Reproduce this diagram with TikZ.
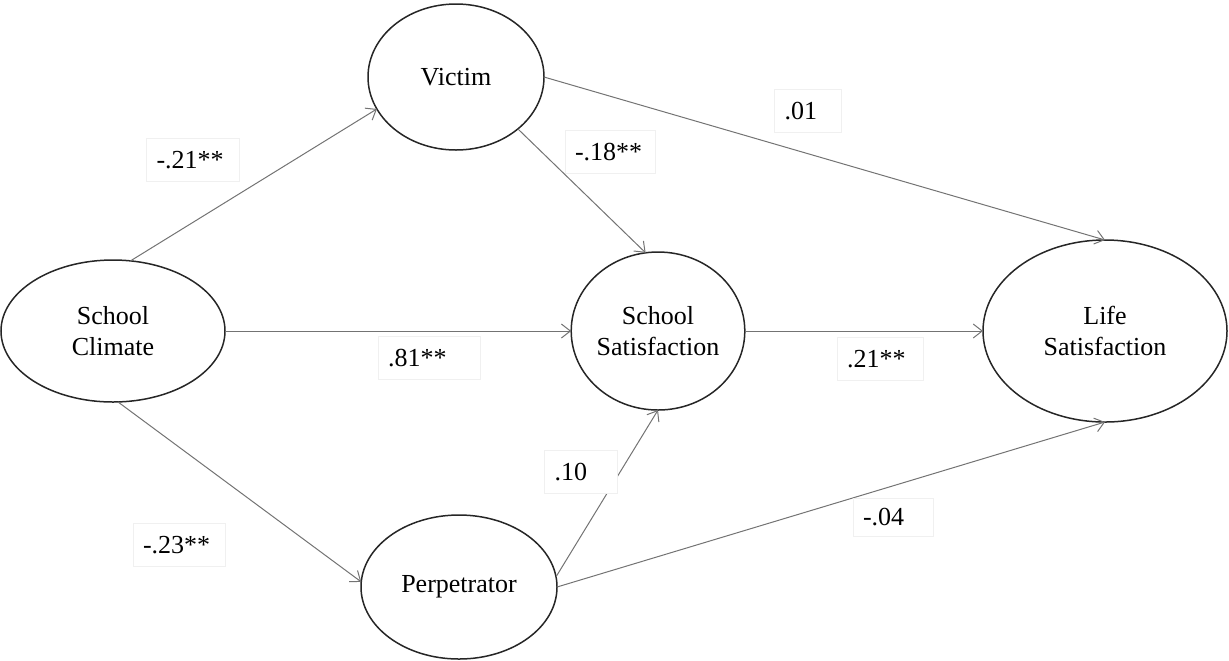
\documentclass[tikz,border=0pt]{standalone}
\usepackage{fontspec}
\setmainfont{Liberation Serif}
\usetikzlibrary{shapes.geometric,arrows.meta}
\begin{document}
\begin{tikzpicture}[x=0.5pt,y=-0.5pt,
  var/.style={ellipse, draw=black!85, line width=0.75pt, inner sep=0pt, outer sep=0pt,
    align=center, font=\fontsize{13pt}{15.5pt}\selectfont},
  path/.style={draw=black!55, line width=0.5pt, -{Straight Barb[length=4.5pt,width=7pt]}},
  coef/.style={draw=black!6, line width=0.4pt, fill=white, inner xsep=5pt, inner ysep=0pt,
    minimum height=21.5pt, align=left, font=\fontsize{13pt}{15.5pt}\selectfont}]
\useasboundingbox (0,0) rectangle (1229,660);

% latent variables
\node[var, minimum width=112pt, minimum height=71pt] (clim) at (113,331) {School\\Climate};
\node[var, minimum width=88pt,  minimum height=73pt] (vict) at (456,77)  {Victim};
\node[var, minimum width=85pt,  minimum height=79pt] (ssat) at (658,331) {School\\Satisfaction};
\node[var, minimum width=122pt, minimum height=91pt] (life) at (1105,331) {Life\\Satisfaction};
\node[var, minimum width=98pt,  minimum height=72pt] (perp) at (459,587) {Perpetrator};

% structural paths
\draw[path] (clim.76)  -- (vict.202);
\draw[path] (vict.0)   -- (life.90);
\draw[path] (vict.320) -- (ssat.99);
\draw[path] (clim.east) -- (ssat.west);
\draw[path] (ssat.east) -- (life.west);
\draw[path] (clim.274) -- (perp.177);
\draw[path] (perp.6)   -- (ssat.270);
\draw[path] (perp.0)   -- (life.270);

% path coefficients (text boxes)
\node[coef, text width=36.5pt] (c1) at (193,160) {-.21**};
\node[coef, text width=23.5pt] (c2) at (808,111) {.01};
\node[coef, text width=35pt]   (c3) at (610,152) {-.18**};
\node[coef, text width=41pt]   (c4) at (429,358) {.81**};
\node[coef, text width=33pt]   (c5) at (880,359) {.21**};
\node[coef, text width=26.5pt] (c6) at (581,472) {.10};
\node[coef, text width=36pt]   (c7) at (179,545) {-.23**};
\node[coef, text width=30pt, minimum height=19pt] (c8) at (893,517) {-.04};
\end{tikzpicture}
\end{document}
